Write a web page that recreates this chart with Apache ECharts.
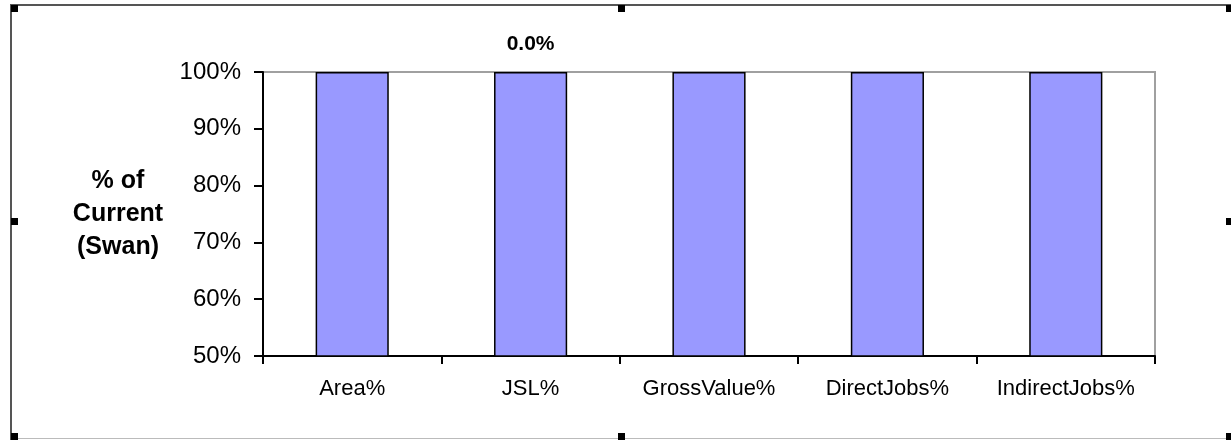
<!DOCTYPE html>
<html lang="en">
<head>
    <meta charset="UTF-8">
    <title>% of Current (Swan)</title>
    <script type="text/javascript" src="https://cdn.jsdelivr.net/npm/echarts@6/dist/echarts.min.js"></script>
    <style>
        html, body { margin: 0; padding: 0; background: #fff; }
        #chart { width: 1231px; height: 440px; }
    </style>
</head>
<body>
    <div id="chart"></div>
    <script>
        // data
        var categories = ['Area%', 'JSL%', 'GrossValue%', 'DirectJobs%', 'IndirectJobs%'];
        var values = [1.0, 1.0, 1.0, 1.0, 1.0];
        var barLabels = ['', '0.0%', '', '', ''];
        var yTicks = [0.5, 0.6, 0.7, 0.8, 0.9, 1.0];

        var font = '"Liberation Sans", Arial, sans-serif';
        var chart = echarts.init(document.getElementById('chart'));

        var seriesData = [];
        for (var i = 0; i < values.length; i++) {
            var item = { value: values[i] };
            if (barLabels[i]) {
                item.label = {
                    show: true,
                    position: 'top',
                    distance: 17,
                    formatter: barLabels[i],
                    fontFamily: font,
                    fontWeight: 'bold',
                    fontSize: 21,
                    color: '#000'
                };
            }
            seriesData.push(item);
        }

        // selection frame + handles (like the selected Excel chart)
        var handles = [[11, 5], [618, 5], [1226, 5], [11, 218], [1226, 218], [11, 433], [618, 433], [1226, 433]];
        var graphics = [
            { type: 'line', shape: { x1: 11, y1: 5, x2: 1231, y2: 5 }, style: { stroke: '#555', lineWidth: 2 } },
            { type: 'line', shape: { x1: 11, y1: 4, x2: 11, y2: 440 }, style: { stroke: '#555', lineWidth: 2 } },
            { type: 'line', shape: { x1: 11, y1: 438.5, x2: 1231, y2: 438.5 }, style: { stroke: '#bbb', lineWidth: 1 } }
        ];
        handles.forEach(function (h) {
            graphics.push({ type: 'rect', shape: { x: h[0], y: h[1], width: 7, height: 7 }, style: { fill: '#000' } });
        });

        var option = {
            animation: false,
            backgroundColor: '#fff',
            grid: {
                left: 263, right: 76, top: 72, bottom: 84,
                show: true,
                borderColor: '#a0a0a0',
                borderWidth: 2
            },
            xAxis: {
                type: 'category',
                data: categories,
                axisLine: { show: true, lineStyle: { color: '#000', width: 2 } },
                axisTick: { show: true, length: 8, lineStyle: { color: '#000', width: 2 } },
                axisLabel: { interval: 0, margin: 22, fontFamily: font, fontSize: 22, color: '#000' },
                splitLine: { show: false }
            },
            yAxis: {
                type: 'value',
                min: 0.5,
                max: 1.0,
                interval: 0.1,
                name: '% of\nCurrent\n(Swan)',
                nameLocation: 'middle',
                nameRotate: 0,
                nameGap: 145,
                nameTextStyle: {
                    fontFamily: font, fontWeight: 'bold', fontSize: 25,
                    color: '#000', align: 'center', verticalAlign: 'middle', lineHeight: 33
                },
                axisLine: { show: true, lineStyle: { color: '#000', width: 2 } },
                axisTick: { show: true, length: 9, lineStyle: { color: '#000', width: 2 } },
                axisLabel: {
                    margin: 22, fontFamily: font, fontSize: 24, color: '#000',
                    formatter: function (v) { return Math.round(v * 100) + '%'; }
                },
                splitLine: { show: false }
            },
            series: [{
                type: 'bar',
                data: seriesData,
                barWidth: '41%',
                itemStyle: { color: '#9999ff', borderColor: '#000', borderWidth: 1.5 }
            }],
            graphic: graphics
        };
        chart.setOption(option);
    </script>
</body>
</html>
